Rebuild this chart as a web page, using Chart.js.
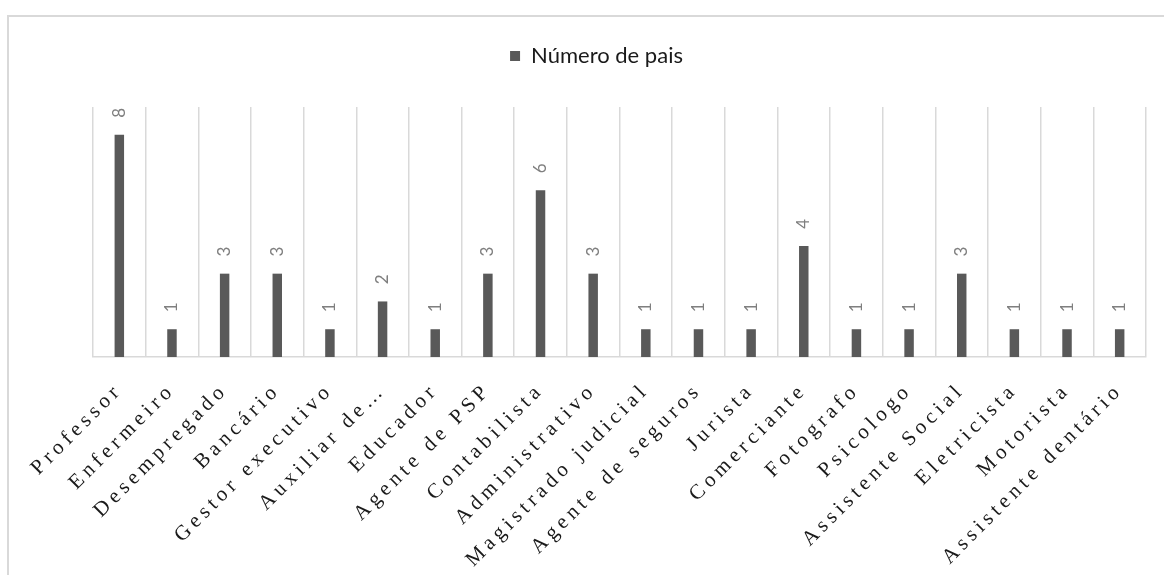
<!DOCTYPE html>
<html>
<head>
<meta charset="utf-8">
<script src="https://cdn.jsdelivr.net/npm/chart.js@4.4.1/dist/chart.umd.min.js"></script>
<style>
  html, body { margin: 0; padding: 0; background: #fff; overflow: hidden; }
  #frame {
    position: absolute; left: 7px; top: 15px; width: 1300px; height: 700px;
    border-left: 2px solid #d9d9d9; border-top: 2px solid #d9d9d9;
  }
  #chart { position: absolute; left: 0; top: 0; }
</style>
</head>
<body>
<div id="frame"></div>
<canvas id="chart" width="1164" height="575"></canvas>
<script>
// Occupations of the parents and how many parents have each one
const categories = [
  'Professor', 'Enfermeiro', 'Desempregado', 'Bancário', 'Gestor executivo',
  'Auxiliar de…', 'Educador', 'Agente de PSP', 'Contabilista', 'Administrativo',
  'Magistrado judicial', 'Agente de seguros', 'Jurista', 'Comerciante', 'Fotografo',
  'Psicologo', 'Assistente Social', 'Eletricista', 'Motorista', 'Assistente dentário'
];
const parentCounts = [8, 1, 3, 3, 1, 2, 1, 3, 6, 3, 1, 1, 1, 4, 1, 1, 3, 1, 1, 1];
const seriesName = 'Número de pais';
const yAxisMax = 9;

const barColor = '#595959';
const gridColor = '#d9d9d9';

// Value labels written vertically above each bar
const valueLabels = {
  id: 'valueLabels',
  afterDatasetsDraw(chart) {
    const ctx = chart.ctx;
    const meta = chart.getDatasetMeta(0);
    const data = chart.data.datasets[0].data;
    ctx.save();
    ctx.font = '17px Lato, "Open Sans", sans-serif';
    ctx.fillStyle = '#7f7f7f';
    ctx.textAlign = 'center';
    ctx.textBaseline = 'middle';
    meta.data.forEach((bar, i) => {
      ctx.save();
      ctx.translate(bar.x, bar.y - 22);
      ctx.rotate(-Math.PI / 2);
      ctx.fillText(String(data[i]), 0, 0);
      ctx.restore();
    });
    ctx.restore();
  }
};

// Wider letter spacing for the category labels only
const spacedTicks = {
  id: 'spacedTicks',
  afterLayout(chart) {
    const s = chart.scales.x;
    if (s && !s.__spaced) {
      const orig = s.drawLabels.bind(s);
      s.drawLabels = function (area) {
        const c = this.ctx;
        c.save();
        c.letterSpacing = '4.5px';
        orig(area);
        c.restore();
      };
      s.__spaced = true;
    }
  }
};

// Extra room between the legend and the plot area
const legendGap = {
  id: 'legendGap',
  beforeLayout(chart) {
    const lg = chart.legend;
    if (lg && !lg.__gap) {
      const fit = lg.fit.bind(lg);
      lg.fit = function () {
        fit();
        this.height += 30;
      };
      lg.__gap = true;
    }
  }
};

new Chart(document.getElementById('chart'), {
  type: 'bar',
  data: {
    labels: categories,
    datasets: [{
      label: seriesName,
      data: parentCounts,
      backgroundColor: barColor,
      borderWidth: 0,
      barPercentage: 0.18,
      categoryPercentage: 1.0
    }]
  },
  options: {
    responsive: false,
    animation: false,
    devicePixelRatio: 1,
    layout: { padding: { top: 16, left: 47, right: 18, bottom: 0 } },
    plugins: {
      legend: {
        display: true,
        position: 'top',
        labels: {
          boxWidth: 10,
          boxHeight: 10,
          padding: 29,
          color: '#1a1a1a',
          font: { family: 'Lato, "Open Sans", sans-serif', size: 22 }
        }
      },
      tooltip: { enabled: false }
    },
    scales: {
      x: {
        offset: true,
        grid: { display: true, offset: true, color: gridColor, lineWidth: 1.5, drawTicks: false },
        border: { display: true, color: gridColor, width: 1.5 },
        ticks: {
          autoSkip: false,
          minRotation: 45,
          maxRotation: 45,
          padding: 21,
          color: '#1a1a1a',
          font: { family: '"Liberation Serif", "DejaVu Serif", serif', size: 21 }
        },
        afterFit(scale) { scale.height = 218; }
      },
      y: {
        min: 0,
        max: yAxisMax,
        display: true,
        grid: { display: false },
        border: { display: false },
        ticks: { display: false },
        afterFit(scale) { scale.width = 46; }
      }
    }
  },
  plugins: [valueLabels, spacedTicks, legendGap]
});
</script>
</body>
</html>
